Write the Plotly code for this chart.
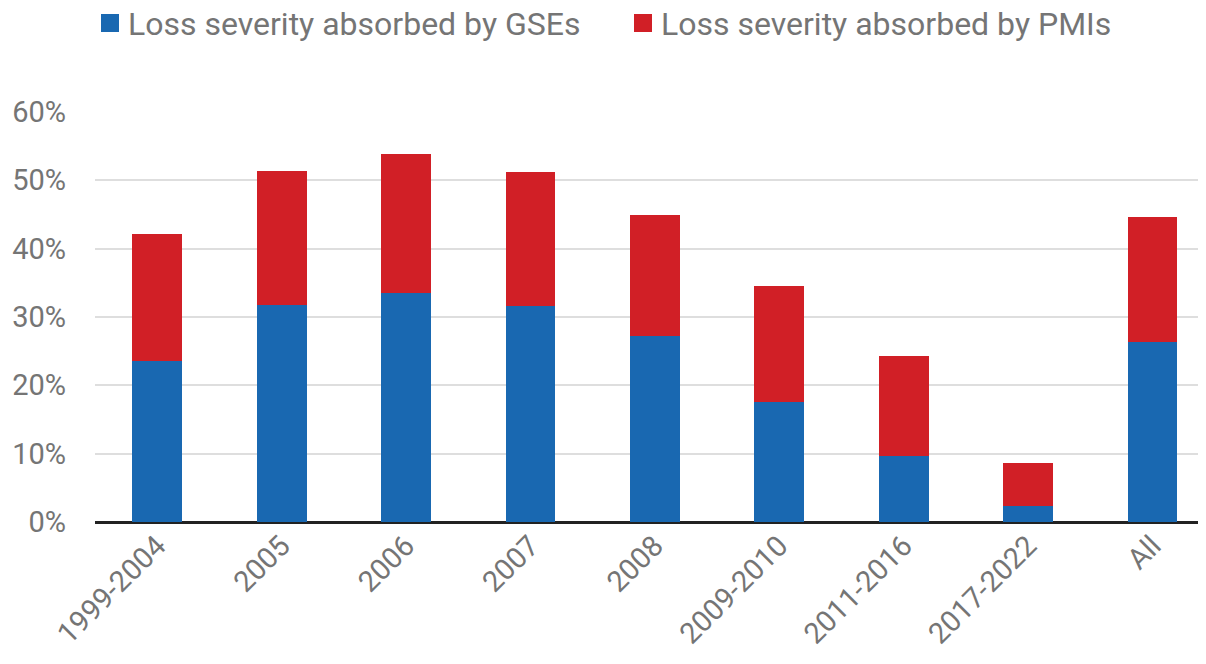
import plotly.graph_objects as go

categories = ["1999-2004", "2005", "2006", "2007", "2008", "2009-2010", "2011-2016", "2017-2022", "All"]
gse_values = [23.6, 31.8, 33.5, 31.6, 27.2, 17.6, 9.7, 2.3, 26.4]
pmi_values = [18.6, 19.6, 20.3, 19.6, 17.7, 17.0, 14.6, 6.4, 18.3]
series_names = ["Loss severity absorbed by GSEs", "Loss severity absorbed by PMIs"]
y_ticks = [0, 10, 20, 30, 40, 50, 60]
y_tick_labels = ["0%", "10%", "20%", "30%", "40%", "50%", "60%"]

BLUE = "#1968B1"
RED = "#D11F26"
TXT = "#757575"
FONT = "Roboto"

W, H = 1206, 664
ML, MR, MT, MB = 87, 8, 104, 150
PW, PH = W - ML - MR, H - MT - MB


def px_x(fx):
    return (fx - ML) / PW


def px_y(fy):
    return 1 - (fy - MT) / PH


fig = go.Figure()
fig.add_trace(go.Bar(x=categories, y=gse_values, name=series_names[0],
                     marker=dict(color=BLUE, line=dict(width=0)), width=0.4))
fig.add_trace(go.Bar(x=categories, y=pmi_values, name=series_names[1],
                     marker=dict(color=RED, line=dict(width=0)), width=0.4))

# legend drawn as swatches + text at the top of the figure
legend_items = [(series_names[0], BLUE, 93), (series_names[1], RED, 626)]
for name, col, sx in legend_items:
    fig.add_shape(type="rect", xref="paper", yref="paper",
                  x0=px_x(sx), x1=px_x(sx + 18), y0=px_y(24), y1=px_y(6),
                  fillcolor=col, line=dict(width=0), layer="above")
    fig.add_annotation(xref="paper", yref="paper", x=px_x(sx + 26), y=px_y(16),
                       xanchor="left", yanchor="middle", text=name, showarrow=False,
                       borderpad=0, font=dict(size=32, color=TXT, family=FONT))

fig.update_layout(
    barmode="stack",
    width=W, height=H,
    margin=dict(l=ML, r=MR, t=MT, b=MB, autoexpand=False),
    paper_bgcolor="white", plot_bgcolor="white",
    font=dict(family=FONT, color=TXT, size=29),
    showlegend=False,
    xaxis=dict(type="category", range=[-0.5, 8.43], tickangle=-45, showgrid=False,
               ticks="", tickfont=dict(size=29, color=TXT), showline=False, zeroline=False),
    yaxis=dict(range=[0, 60], tickvals=y_ticks, ticktext=y_tick_labels, showgrid=True,
               gridcolor="#DEDEDE", gridwidth=2, zeroline=True, zerolinecolor="#222222",
               zerolinewidth=3, showline=False, ticks="", ticklabelstandoff=28,
               tickfont=dict(size=29, color=TXT)),
)

fig.write_html("out.html")
